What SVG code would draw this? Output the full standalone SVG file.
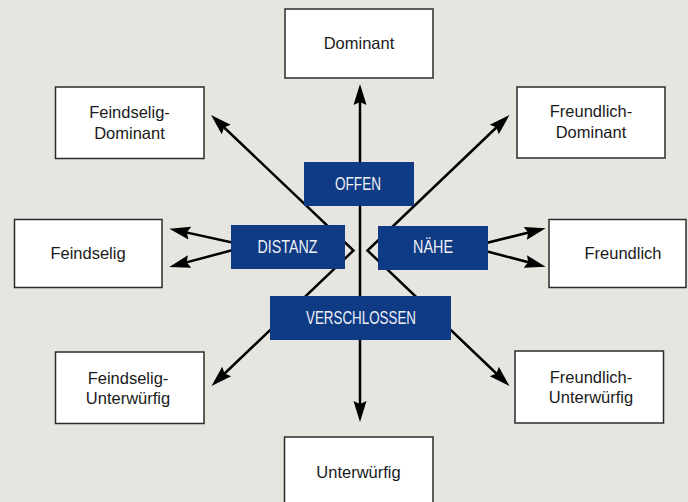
<svg xmlns="http://www.w3.org/2000/svg" width="688" height="502" viewBox="0 0 688 502">
<style>
.bg{fill:#e6e5df}
.box{fill:#ffffff;stroke:#2b2b2b;stroke-width:1.5}
.lbl{font-family:"Liberation Sans",Arial,sans-serif;font-size:16.5px;fill:#1a1a1a;text-anchor:middle}
.blue{fill:#0f3a84}
.bl{font-family:"Liberation Sans",Arial,sans-serif;font-size:17.5px;fill:#eef1f8;text-anchor:middle}
.con{fill:none;stroke:#000;stroke-width:2.5;stroke-linejoin:miter;marker-start:url(#ah);marker-end:url(#ah)}
.one{fill:none;stroke:#000;stroke-width:2.5;marker-end:url(#ah)}
</style>
<defs>
<marker id="ah" viewBox="-16 -8 26 16" refX="0" refY="0" markerWidth="26" markerHeight="16" markerUnits="userSpaceOnUse" orient="auto-start-reverse" overflow="visible">
<path d="M8,0 L-13,-6.5 L-10,0 L-13,6.5 Z" fill="#000"/>
</marker>
</defs>
<rect class="bg" x="0" y="0" width="688" height="502"/>
<g id="connectors">
<path class="one" d="M360,250 L360,92"/>
<path class="one" d="M360,250 L360,414"/>
<path class="con" d="M216.8,120.5 L353.5,250.5 L217.3,380.5"/>
<path class="con" d="M503.7,120.5 L367.5,250.5 L503.7,380.5"/>
<path class="con" d="M177.1,230.4 L248,246 L177,264.9"/>
<path class="con" d="M537.9,230.2 L470,247 L537.9,264.7"/>
</g>
<g id="offen"><rect class="blue" x="304" y="162" width="110" height="44"/><text class="bl" x="358" y="189.5" textLength="46" lengthAdjust="spacingAndGlyphs">OFFEN</text></g>
<g id="distanz"><rect class="blue" x="231" y="225" width="114" height="44"/><text class="bl" x="287.5" y="253" textLength="60" lengthAdjust="spacingAndGlyphs">DISTANZ</text></g>
<g id="naehe"><rect class="blue" x="378" y="226" width="110" height="44"/><text class="bl" x="433" y="253" textLength="40" lengthAdjust="spacingAndGlyphs">NÄHE</text></g>
<g id="verschlossen"><rect class="blue" x="270" y="296" width="181" height="44"/><text class="bl" x="361" y="324" textLength="110" lengthAdjust="spacingAndGlyphs">VERSCHLOSSEN</text></g>
<g id="dominant"><rect class="box" x="285" y="9" width="148" height="69"/><text class="lbl" x="359" y="49.3">Dominant</text></g>
<g id="feindselig-dominant"><rect class="box" x="55.5" y="87" width="148.5" height="71.5"/><text class="lbl" x="129.5" y="118.3">Feindselig-</text><text class="lbl" x="129.5" y="138.7">Dominant</text></g>
<g id="freundlich-dominant"><rect class="box" x="517" y="87" width="148" height="71"/><text class="lbl" x="591" y="117.3">Freundlich-</text><text class="lbl" x="591" y="137.7">Dominant</text></g>
<g id="feindselig"><rect class="box" x="14.5" y="219.5" width="147.5" height="68"/><text class="lbl" x="88" y="259">Feindselig</text></g>
<g id="freundlich"><rect class="box" x="549" y="219.5" width="137" height="68"/><text class="lbl" x="623" y="259">Freundlich</text></g>
<g id="feindselig-unterwuerfig"><rect class="box" x="55.5" y="352" width="148.5" height="71.5"/><text class="lbl" x="128" y="384">Feindselig-</text><text class="lbl" x="128" y="404">Unterwürfig</text></g>
<g id="freundlich-unterwuerfig"><rect class="box" x="515" y="351" width="148.5" height="72"/><text class="lbl" x="591" y="382.7">Freundlich-</text><text class="lbl" x="591" y="403.3">Unterwürfig</text></g>
<g id="unterwuerfig"><rect class="box" x="284.5" y="437" width="148.5" height="80"/><text class="lbl" x="358.5" y="477.7">Unterwürfig</text></g>
</svg>
